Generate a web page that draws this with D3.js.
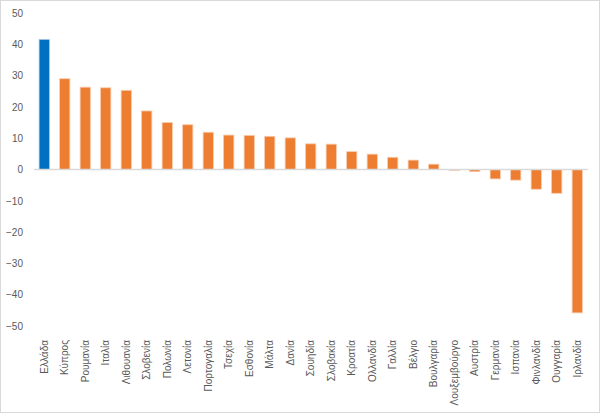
<!DOCTYPE html>
<html><head><meta charset="utf-8">
<script src="https://cdn.jsdelivr.net/npm/d3@7"></script>
<style>body{margin:0;background:#fff}svg{display:block}</style>
</head><body>
<svg id="c" width="600" height="413"></svg>
<script>
const categories = ["Ελλάδα","Κύπρος","Ρουμανία","Ιταλία","Λιθουανία","Σλοβενία","Πολωνία","Λετονία","Πορτογαλία","Τσεχία","Εσθονία","Μάλτα","Δανία","Σουηδία","Σλοβακία","Κροατία","Ολλανδία","Γαλλία","Βέλγιο","Βουλγαρία","Λουξεμβούργο","Αυστρία","Γερμανία","Ισπανία","Φινλανδία","Ουγγαρία","Ιρλανδία"];
const values = [41.5,29.0,26.3,26.1,25.3,18.7,15.0,14.3,11.9,11.0,10.9,10.6,10.1,8.2,8.1,5.7,4.9,3.9,3.0,1.7,-0.3,-0.7,-3.0,-3.4,-6.3,-7.6,-45.8];
const highlight = ["Ελλάδα"];
const yTicks = [50,40,30,20,10,0,-10,-20,-30,-40,-50];

const svg = d3.select("#c");
const font = "'Liberation Sans', Arial, sans-serif";
svg.append("rect").attr("x",0.5).attr("y",0.5).attr("width",599).attr("height",412)
  .attr("fill","#fff").attr("stroke","#d9d9d9");

const x = d3.scaleBand().domain(categories).range([34,587.5]).paddingInner(0.5).paddingOuter(0.25);
const y = d3.scaleLinear().domain([-50,50]).range([326,13]);

// y axis labels
const ya = svg.append("g").attr("transform","translate(23,0)")
  .call(d3.axisLeft(y).tickValues(yTicks).tickSize(0).tickPadding(0).tickFormat(d3.format("d")));
ya.select(".domain").remove();
ya.selectAll("text").attr("fill","#595959").style("font-family",font).style("font-size","10px");

// bars
svg.append("g").selectAll("rect").data(categories).join("rect")
  .attr("x",d=>x(d))
  .attr("width",x.bandwidth())
  .attr("y",(d,i)=>y(Math.max(0,values[i])))
  .attr("height",(d,i)=>Math.abs(y(values[i])-y(0)))
  .attr("fill",d=>highlight.includes(d)?"#0070C0":"#ED7D31")
  .attr("stroke",d=>highlight.includes(d)?"#9dc3e6":"#f8cbad")
  .attr("stroke-width",0.8);

// zero line
svg.append("line").attr("x1",34).attr("x2",588).attr("y1",y(0)).attr("y2",y(0))
  .attr("stroke","#d9d9d9").attr("stroke-width",1.5);

// x labels
svg.append("g").selectAll("text").data(categories).join("text")
  .attr("transform",d=>`translate(${x(d)+x.bandwidth()/2+3.5},340) rotate(-90)`)
  .attr("text-anchor","end")
  .attr("fill","#595959")
  .style("font-family",font).style("font-size","10px")
  .text(d=>d);
</script>
</body></html>
